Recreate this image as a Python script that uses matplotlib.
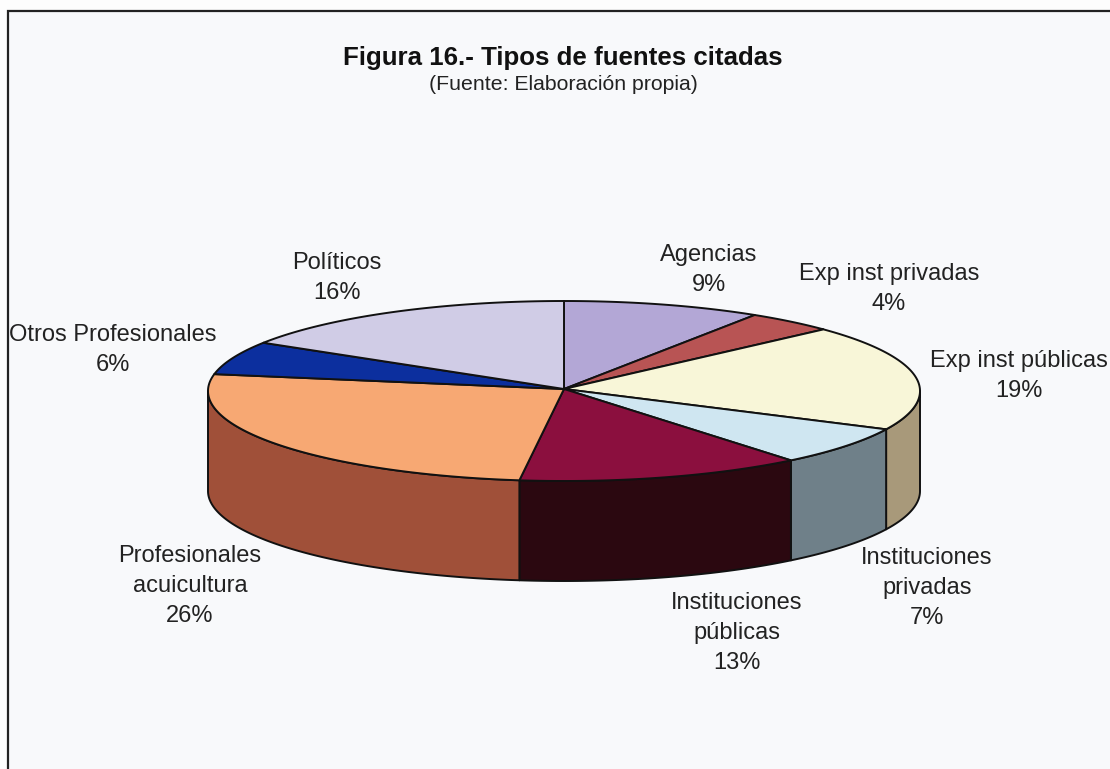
import numpy as np
import matplotlib
matplotlib.use("Agg")
import matplotlib.pyplot as plt
from matplotlib.patches import Polygon, Rectangle

plt.rcParams['font.family'] = ['Liberation Sans', 'DejaVu Sans']

categories = ["Agencias", "Exp inst privadas", "Exp inst públicas", "Instituciones\nprivadas",
              "Instituciones\npúblicas", "Profesionales\nacuicultura", "Otros Profesionales", "Políticos"]
values = [9, 4, 19, 7, 13, 26, 6, 16]
top_colors = ["#b3a7d6", "#b85454", "#f8f6d8", "#cfe6f1", "#8b0f3e", "#f7a873", "#0c2f9e", "#d0cce6"]
side_colors = ["#7d7496", "#803a3a", "#a8997a", "#6f8089", "#2b0810", "#a05039", "#081f6e", "#918ea1"]
label_pos = [(709, 270), (889, 289), (1019, 376), (927, 588), (737, 633), (190, 586), (113, 350), (337, 278)]

CX, CY, RX, RY, DEPTH = 564, 391, 356, 90, 100

fig = plt.figure(figsize=(11.1, 7.69), dpi=100, facecolor="#fdfdfd")
ax = fig.add_axes([0, 0, 1, 1])
ax.set_xlim(0, 1110)
ax.set_ylim(769, 0)
ax.axis("off")

ax.add_patch(Rectangle((8, 11), 1120, 790, fc="#f8f9fb", ec="#222222", lw=1.6, zorder=0))


def rim(a, b, n=120):
    t = np.radians(np.linspace(a, b, n))
    return CX + RX * np.sin(t), CY - RY * np.cos(t)


edges = np.concatenate([[0], np.cumsum(values)]) / sum(values) * 360

# side walls of the front half
for i in range(len(values)):
    a, b = max(edges[i], 90), min(edges[i + 1], 270)
    if a >= b:
        continue
    x, y = rim(a, b)
    pts = np.vstack([np.column_stack([x, y]), np.column_stack([x[::-1], y[::-1] + DEPTH])])
    ax.add_patch(Polygon(pts, closed=True, fc=side_colors[i], ec="#111111", lw=1.4, zorder=2, joinstyle="round"))

# top faces
for i in range(len(values)):
    x, y = rim(edges[i], edges[i + 1])
    pts = np.vstack([[CX, CY - 2], np.column_stack([x, y])])
    ax.add_patch(Polygon(pts, closed=True, fc=top_colors[i], ec="#111111", lw=1.4, zorder=3, joinstyle="round"))

for name, v, (lx, ly) in zip(categories, values, label_pos):
    ax.text(lx, ly, f"{name}\n{v}%", ha="center", va="center", fontsize=17,
            color="#222222", linespacing=1.45, zorder=5)

ax.text(563, 58, "Figura 16.- Tipos de fuentes citadas", ha="center", va="center",
        fontsize=18.6, fontweight="bold", color="#111111")
ax.text(563, 85, "(Fuente: Elaboración propia)", ha="center", va="center",
        fontsize=15.3, color="#222222")

fig.savefig("out.png", dpi=100, facecolor=fig.get_facecolor())
